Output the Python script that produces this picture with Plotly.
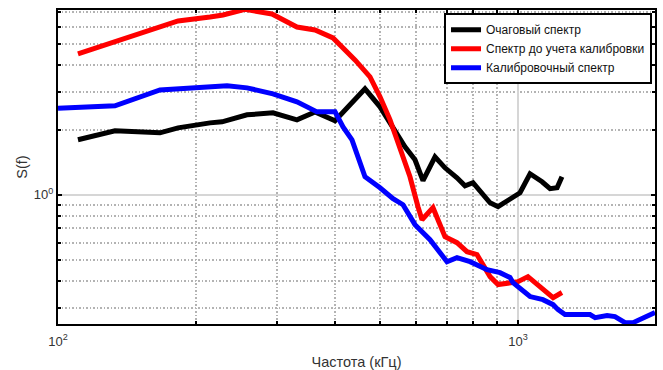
import plotly.graph_objects as go

# ---- data ----
black_x = [110.5, 133.0, 166.6, 182.4, 214.0, 227.3, 257.6, 293.3, 330.7, 362.0, 400.2, 431.3,
           464.9, 501.2, 535.0, 567.9, 597.1, 621.5, 660.0, 693.8, 736.8, 767.0, 798.3, 826.8,
           869.3, 904.9, 960.7, 1010, 1062, 1128, 1174, 1216, 1246]
black_y = [1.795, 1.975, 1.934, 2.039, 2.150, 2.174, 2.342, 2.392, 2.221, 2.417, 2.197, 2.604,
           3.088, 2.550, 2.061, 1.666, 1.451, 1.161, 1.498, 1.332, 1.198, 1.100, 1.136, 1.032,
           0.918, 0.880, 0.948, 1.021, 1.250, 1.148, 1.066, 1.077, 1.211]

red_x = [110.5, 164.1, 182.4, 214.0, 228.4, 255.0, 291.8, 330.7, 362.0, 396.1, 426.9, 442.2,
         476.7, 501.2, 527.0, 554.0, 582.3, 606.1, 618.4, 653.4, 693.8, 736.8, 774.6, 814.5,
         869.3, 904.9, 960.7, 1000, 1051, 1116, 1192, 1246]
red_y = [4.480, 5.907, 6.364, 6.641, 6.783, 7.20, 6.855, 5.970, 5.783, 5.311, 4.576, 4.203,
         3.508, 2.836, 2.221, 1.614, 1.211, 0.880, 0.766, 0.871, 0.640, 0.600, 0.545, 0.528,
         0.418, 0.384, 0.392, 0.396, 0.418, 0.376, 0.334, 0.353]

blue_x = [100, 133.0, 166.6, 200.5, 233.1, 257.6, 293.3, 330.7, 365.6, 400.2, 416.5, 435.6,
          464.9, 501.2, 535.0, 562.3, 597.1, 643.7, 700.8, 736.8, 786.5, 856.4, 913.8, 960.7,
          975.3, 1062, 1133, 1192, 1222, 1265, 1344, 1434, 1471, 1562, 1625, 1709, 1778, 1842,
          1908, 1985]
blue_y = [2.509, 2.577, 3.055, 3.121, 3.188, 3.121, 2.928, 2.689, 2.417, 2.417, 2.061, 1.795,
          1.211, 1.077, 0.958, 0.899, 0.727, 0.620, 0.490, 0.512, 0.490, 0.450, 0.436, 0.414,
          0.392, 0.338, 0.327, 0.310, 0.294, 0.279, 0.279, 0.279, 0.270, 0.276, 0.273, 0.256,
          0.256, 0.265, 0.276, 0.285]

names = ["Очаговый спектр", "Спектр до учета калибровки", "Калибровочный спектр"]
colors = ["#000000", "#ff0000", "#0000ff"]

x_minor = [200, 300, 400, 500, 600, 700, 800, 900, 2000]
y_minor = [0.3, 0.4, 0.5, 0.6, 0.7, 0.8, 0.9, 2, 3, 4, 5, 6, 7]

font_family = "Liberation Sans, Arial, sans-serif"

fig = go.Figure()
for xs, ys, nm, c in zip([black_x, red_x, blue_x], [black_y, red_y, blue_y], names, colors):
    fig.add_trace(go.Scatter(x=xs, y=ys, mode="lines", name=nm,
                             line=dict(color=c, width=5)))

axis_common = dict(
    showline=True, linecolor="black", linewidth=2, mirror="allticks",
    ticks="inside", ticklen=4, tickcolor="black", tickwidth=1.5,
    showgrid=True, gridcolor="#d6d6d6", gridwidth=1.5,
    zeroline=False, automargin=False,
    tickfont=dict(family=font_family, size=13, color="#333333"),
)
minor_common = dict(ticks="inside", ticklen=3, tickcolor="black", tickwidth=1.5,
                    showgrid=True, gridcolor="#b3b3b3", griddash="1.5px,2px", gridwidth=1.5)

fig.update_xaxes(
    type="log", range=[2, 3.2978],
    tickvals=[100, 1000], ticktext=["10<sup>2</sup>", "10<sup>3</sup>"],
    ticklabelstandoff=4,
    title=dict(text="Частота (кГц)", font=dict(family=font_family, size=14.5, color="#333333"),
               standoff=15),
    minor=dict(tickvals=x_minor, **minor_common),
    **axis_common,
)
fig.update_yaxes(
    type="log", range=[-0.598, 0.8545],
    tickvals=[1], ticktext=["10<sup>0</sup>"],
    title=dict(text="S(f)", font=dict(family=font_family, size=14.5, color="#333333"),
               standoff=3),
    minor=dict(tickvals=y_minor, **minor_common),
    **axis_common,
)

fig.update_layout(
    width=663, height=370,
    margin=dict(l=58, r=8, t=10, b=46),
    paper_bgcolor="white", plot_bgcolor="white",
    font=dict(family=font_family, size=12, color="#333333"),
    legend=dict(x=0.995, y=0.99, xanchor="right", yanchor="top",
                bgcolor="white", bordercolor="black", borderwidth=2,
                font=dict(family=font_family, size=12, color="#111111"),
                tracegroupgap=0, itemwidth=30),
    showlegend=True,
)

fig.write_html("out.html")
